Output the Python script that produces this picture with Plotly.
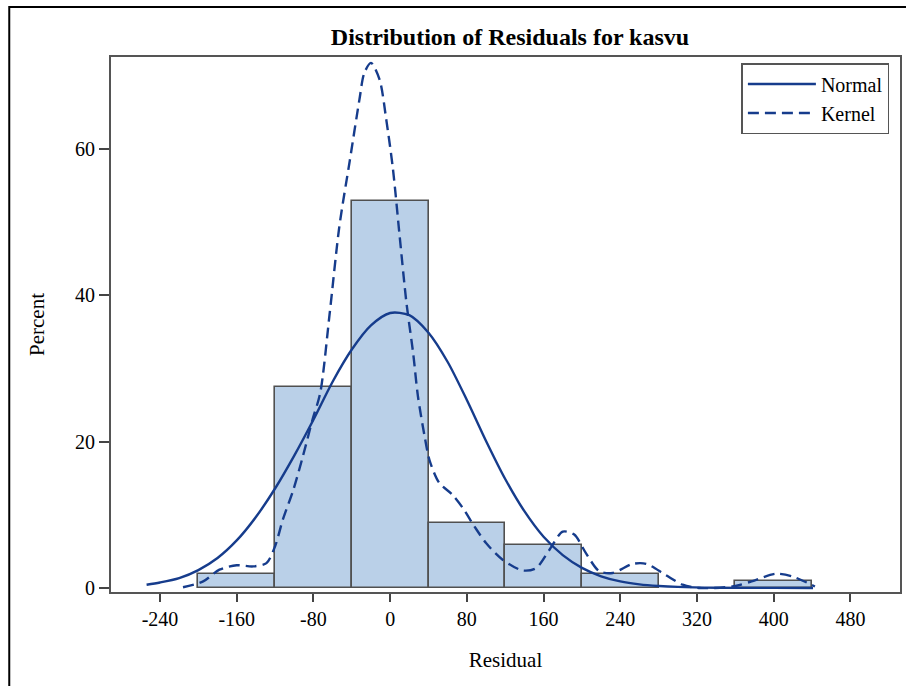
import plotly.graph_objects as go

# Histogram bins (midpoints, percent)
bin_mid = [-160, -80, 0, 80, 160, 240, 400]
bin_pct = [1.96, 27.45, 52.94, 8.82, 5.88, 1.96, 0.98]
bin_width = 80

# Normal density curve
normal_x = [-254, -240, -220, -200, -180, -160, -140, -120, -100, -80, -60, -40, -20, 0, 20, 40,
            60, 80, 100, 120, 140, 160, 180, 200, 220, 240, 260, 280, 300, 340, 400, 441]
normal_y = [0.45, 0.75, 1.35, 2.45, 4.1, 6.5, 9.7, 13.6, 18.1, 23.0, 28.2, 32.6, 35.9, 37.6, 37.3,
            34.9, 30.9, 25.7, 20.1, 14.9, 10.5, 7.0, 4.5, 2.75, 1.6, 0.9, 0.5, 0.28, 0.15, 0.04,
            0.01, 0.0]

# Kernel density curve
kernel_x = [-216, -195, -178, -160, -143, -129, -120, -112, -101, -91, -81, -73, -63, -53, -42, -32,
            -27, -20, -11, -4, 3, 10, 17, 24, 29, 36, 41, 51, 65, 76, 88, 100, 117, 138, 152, 166,
            180, 192, 204, 218, 232, 253, 267, 287, 305, 322, 357, 377, 402, 419, 443]
kernel_y = [0.1, 0.9, 2.5, 3.1, 2.95, 3.4, 5.7, 9.3, 13.4, 18, 23, 26.6, 37.6, 49.4, 58.5, 66.8,
            70.4, 71.8, 69.5, 64, 57.2, 48, 39, 32.1, 26.2, 20.7, 17.5, 14.4, 12.75, 10.9, 8.4, 6.15,
            3.9, 2.4, 2.7, 5.2, 7.7, 7.3, 4.8, 2.3, 2.05, 3.3, 3.3, 1.8, 0.45, 0.0, 0.2, 0.9, 1.95,
            1.6, 0.2]

x_ticks = [-240, -160, -80, 0, 80, 160, 240, 320, 400, 480]
x_tick_labels = ["-240", "-160", "-80", "0", "80", "160", "240", "320", "400", "480"]
y_ticks = [0, 20, 40, 60]
y_tick_labels = ["0", "20", "40", "60"]

LINE = "#163c8c"
FONT = "Liberation Serif"

fig = go.Figure()
fig.add_trace(go.Bar(x=bin_mid, y=bin_pct, width=bin_width, showlegend=False,
                     marker=dict(color="#bad0e8", line=dict(color="#505050", width=1.6)),
                     hoverinfo="skip"))
fig.add_trace(go.Scatter(x=normal_x, y=normal_y, mode="lines", name="Normal",
                         line=dict(color=LINE, width=2.4, shape="spline", smoothing=0.8)))
fig.add_trace(go.Scatter(x=kernel_x, y=kernel_y, mode="lines", name="Kernel",
                         line=dict(color=LINE, width=2.4, shape="spline", smoothing=0.8,
                                   dash="11px,6px")))

L, T, R, B = 111, 57, 902, 592
W, H = 908, 686
pw, ph = R - L, B - T

def px(x):
    return (x - L) / pw

def py(y):
    return (B - y) / ph

fig.update_layout(
    width=W, height=H,
    margin=dict(l=L, r=W - R, t=T, b=H - B, pad=0),
    paper_bgcolor="white", plot_bgcolor="white",
    font=dict(family=FONT, size=20, color="black"),
    title=dict(text="<b>Distribution of Residuals for kasvu</b>", xref="container", x=510 / W,
               xanchor="center", y=1 - 37 / H, yanchor="middle",
               font=dict(family=FONT, size=24, color="black")),
    bargap=0,
    showlegend=True,
    legend=dict(x=px(743), y=py(63), xanchor="left", yanchor="top",
                bgcolor="white", bordercolor="#555555", borderwidth=1.5,
                font=dict(family=FONT, size=20, color="black"),
                tracegroupgap=0, itemwidth=68),
    xaxis=dict(range=[-291.1, 531.7], tickvals=x_ticks, ticktext=x_tick_labels,
               ticks="outside", ticklen=8,
               tickwidth=1.5, tickcolor="#444444", showgrid=False, zeroline=False,
               showline=True, linecolor="#555555", linewidth=2, mirror=True,
               tickfont=dict(family=FONT, size=20),
               title=dict(text="Residual", font=dict(family=FONT, size=21), standoff=23)),
    yaxis=dict(range=[-0.55, 72.6], tickvals=y_ticks, ticktext=y_tick_labels,
               ticks="outside", ticklen=10,
               tickwidth=1.5, tickcolor="#444444", showgrid=False, zeroline=False,
               showline=True, linecolor="#555555", linewidth=2, mirror=True,
               tickfont=dict(family=FONT, size=20),
               title=dict(text="Percent", font=dict(family=FONT, size=21), standoff=25)),
    shapes=[dict(type="path", xref="paper", yref="paper",
                 path=f"M {px(9)} {py(H)} L {px(9)} {py(7)} L {px(W)} {py(7)}",
                 line=dict(color="black", width=2))],
)

fig.write_html("out.html")
